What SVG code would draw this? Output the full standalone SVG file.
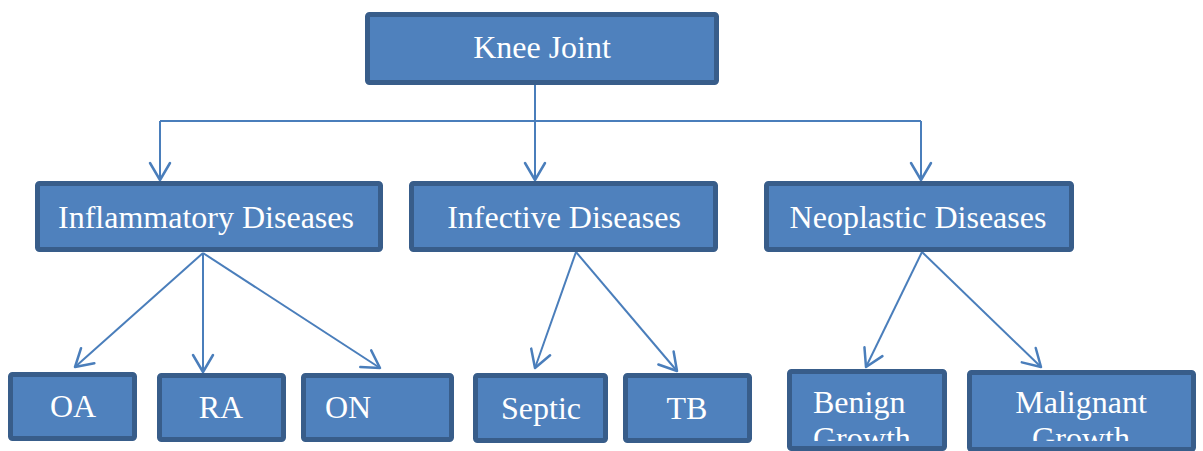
<svg xmlns="http://www.w3.org/2000/svg" width="1203" height="451" viewBox="0 0 1203 451">
  <style>
    .box { fill: #4F81BD; stroke: #385D8A; stroke-width: 5; }
    .lbl { font-family: "Liberation Serif", "Times New Roman", serif; font-size: 32px; fill: #FFFFFF; }
    .c { text-anchor: middle; }
    .conn { fill: none; stroke: #4A7EBB; stroke-width: 2; }
  </style>
  <defs>
    <marker id="arr" markerUnits="userSpaceOnUse" markerWidth="26" markerHeight="26" viewBox="-22 -13 26 26" refX="0" refY="0" orient="auto">
      <path d="M-17,-10 L0,0 L-17,10" fill="none" stroke="#4A7EBB" stroke-width="2.5" stroke-linecap="round" stroke-linejoin="round"/>
    </marker>
    <clipPath id="clipBottom">
      <rect x="0" y="0" width="1203" height="441"/>
    </clipPath>
  </defs>
  <rect width="1203" height="451" fill="#FFFFFF"/>

  <g id="connectors">
    <path class="conn" d="M535,85 L535,121 M160,121 L921,121"/>
    <line class="conn" x1="160" y1="121" x2="160" y2="180" marker-end="url(#arr)"/>
    <line class="conn" x1="535" y1="121" x2="535" y2="180" marker-end="url(#arr)"/>
    <line class="conn" x1="921" y1="121" x2="921" y2="180" marker-end="url(#arr)"/>
    <line class="conn" x1="203" y1="253" x2="75" y2="367" marker-end="url(#arr)"/>
    <line class="conn" x1="203" y1="253" x2="203" y2="372" marker-end="url(#arr)"/>
    <line class="conn" x1="203" y1="253" x2="380" y2="368" marker-end="url(#arr)"/>
    <line class="conn" x1="576" y1="252" x2="535" y2="368" marker-end="url(#arr)"/>
    <line class="conn" x1="576" y1="252" x2="677" y2="371" marker-end="url(#arr)"/>
    <line class="conn" x1="922" y1="252" x2="866" y2="367" marker-end="url(#arr)"/>
    <line class="conn" x1="922" y1="252" x2="1041" y2="367" marker-end="url(#arr)"/>
  </g>

  <g id="knee-joint">
    <rect class="box" x="367.5" y="14.5" width="349" height="68" rx="2"/>
    <text class="lbl c" x="542" y="58">Knee Joint</text>
  </g>
  <g id="inflammatory">
    <rect class="box" x="37.5" y="183.5" width="343" height="66" rx="2"/>
    <text class="lbl c" x="206" y="228">Inflammatory Diseases</text>
  </g>
  <g id="infective">
    <rect class="box" x="411.5" y="183.5" width="304" height="66" rx="2"/>
    <text class="lbl c" x="564" y="228">Infective Diseases</text>
  </g>
  <g id="neoplastic">
    <rect class="box" x="766.5" y="183.5" width="305" height="66" rx="2"/>
    <text class="lbl c" x="918" y="228">Neoplastic Diseases</text>
  </g>
  <g id="oa">
    <rect class="box" x="10.5" y="374.5" width="124" height="64" rx="2"/>
    <text class="lbl c" x="73" y="417">OA</text>
  </g>
  <g id="ra">
    <rect class="box" x="159.5" y="375.5" width="124" height="64" rx="2"/>
    <text class="lbl c" x="221" y="418">RA</text>
  </g>
  <g id="on">
    <rect class="box" x="303.5" y="375.5" width="148" height="64" rx="2"/>
    <text class="lbl" x="325" y="418">ON</text>
  </g>
  <g id="septic">
    <rect class="box" x="475.5" y="375.5" width="130" height="65" rx="2"/>
    <text class="lbl c" x="541" y="419">Septic</text>
  </g>
  <g id="tb">
    <rect class="box" x="625.5" y="375.5" width="124" height="65" rx="2"/>
    <text class="lbl c" x="687" y="419">TB</text>
  </g>
  <g id="benign">
    <rect class="box" x="789.5" y="371.5" width="155" height="77" rx="2"/>
    <text class="lbl" x="813" y="413" clip-path="url(#clipBottom)">Benign<tspan x="813" dy="36">Growth</tspan></text>
  </g>
  <g id="malignant">
    <rect class="box" x="969.5" y="372.5" width="224" height="77" rx="2"/>
    <text class="lbl c" x="1081" y="413" clip-path="url(#clipBottom)">Malignant<tspan x="1081" dy="36">Growth</tspan></text>
  </g>
</svg>
